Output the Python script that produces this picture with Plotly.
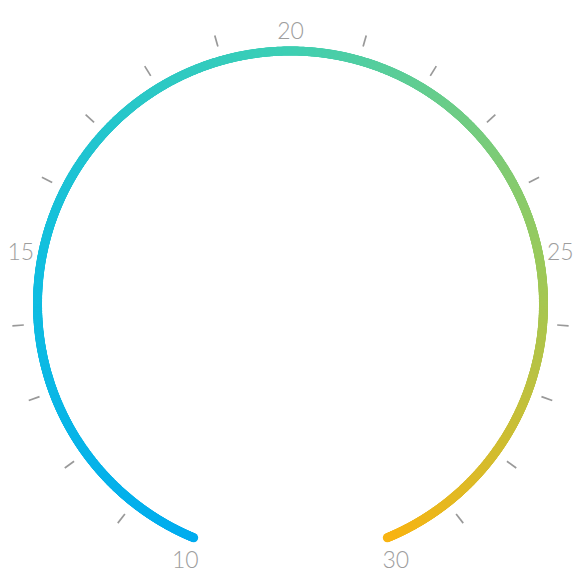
import numpy as np
import plotly.graph_objects as go

# Gauge data
gauge_min = 10
gauge_max = 30
gauge_value = 30
major_ticks = [10, 15, 20, 25, 30]
minor_ticks = [11, 12, 13, 14, 16, 17, 18, 19, 21, 22, 23, 24, 26, 27, 28, 29]
color_stops = [(0.0, "#00acef"), (0.25, "#12bfdf"), (0.5, "#3ecfb4"),
               (0.75, "#98ca5d"), (1.0, "#f8b412")]

SWEEP = 315.0  # degrees covered by the gauge
MID = (gauge_min + gauge_max) / 2


def to_theta(v):
    return (np.asarray(v, dtype=float) - MID) / (gauge_max - gauge_min) * SWEEP


fig = go.Figure()

# gradient arc (track filled up to value)
vals = np.linspace(gauge_min, gauge_value, 1800)
fig.add_trace(go.Scatterpolar(
    r=np.full(vals.shape, 253.0), theta=to_theta(vals), mode="markers",
    marker=dict(size=9, color=vals, colorscale=[list(s) for s in color_stops],
                cmin=gauge_min, cmax=gauge_max, line=dict(width=0)),
    cliponaxis=False, hoverinfo="skip", showlegend=False))

# minor ticks
rt, tt = [], []
for v in minor_ticks:
    th = float(to_theta(v))
    rt += [267.5, 279, None]
    tt += [th, th, None]
fig.add_trace(go.Scatterpolar(r=rt, theta=tt, mode="lines",
                              line=dict(color="#999999", width=1.7),
                              cliponaxis=False, hoverinfo="skip", showlegend=False))

# major labels (own polar layer, nudged down slightly for text baseline)
fig.add_trace(go.Scatterpolar(
    r=[275] * len(major_ticks), theta=to_theta(major_ticks), mode="text",
    text=[str(v) for v in major_ticks], textposition="middle center",
    textfont=dict(family="Lato, Roboto, sans-serif", size=23, color="#9d9d9d",
                  weight=300),
    cliponaxis=False, hoverinfo="skip", showlegend=False, subplot="polar2"))

W = 584
RMAX = 280
R = 280


def polar_cfg(cx, cy):
    return dict(
        domain=dict(x=[(cx - R) / W, (cx + R) / W],
                    y=[(W - cy - R) / W, (W - cy + R) / W]),
        bgcolor="rgba(0,0,0,0)",
        radialaxis=dict(range=[0, RMAX], visible=False),
        angularaxis=dict(visible=False, rotation=90, direction="clockwise"),
    )


fig.update_layout(
    width=W, height=W, margin=dict(l=0, r=0, t=0, b=0),
    paper_bgcolor="white", plot_bgcolor="white",
    polar=polar_cfg(282.5, 296),
    polar2=polar_cfg(282.5, 300),
)

fig.write_html("out.html")
